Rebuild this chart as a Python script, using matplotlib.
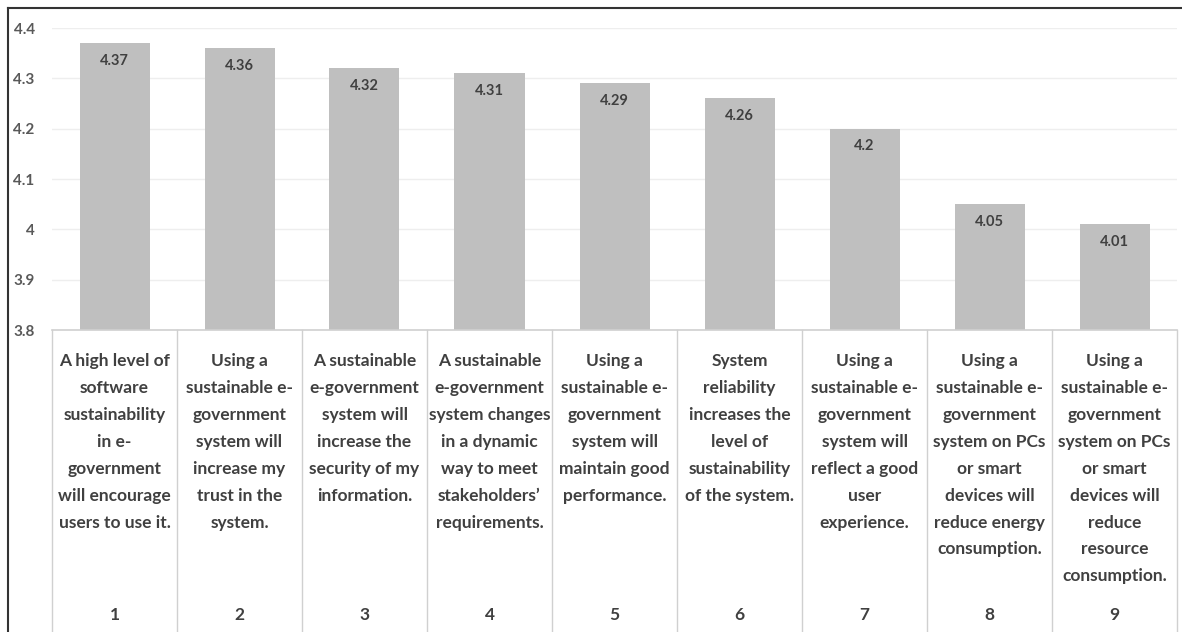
import matplotlib
matplotlib.use('Agg')
import matplotlib.pyplot as plt
from matplotlib.lines import Line2D

# data
item_numbers = ['1', '2', '3', '4', '5', '6', '7', '8', '9']
mean_scores = [4.37, 4.36, 4.32, 4.31, 4.29, 4.26, 4.20, 4.05, 4.01]
score_labels = ['4.37', '4.36', '4.32', '4.31', '4.29', '4.26', '4.2', '4.05', '4.01']
statements = [
	"A high level of\nsoftware\nsustainability\nin e-\ngovernment\nwill encourage\nusers to use it.",
	"Using a\nsustainable e-\ngovernment\nsystem will\nincrease my\ntrust in the\nsystem.",
	"A sustainable\ne-government\nsystem will\nincrease the\nsecurity of my\ninformation.",
	"A sustainable\ne-government\nsystem changes\nin a dynamic\nway to meet\nstakeholders\u2019\nrequirements.",
	"Using a\nsustainable e-\ngovernment\nsystem will\nmaintain good\nperformance.",
	"System\nreliability\nincreases the\nlevel of\nsustainability\nof the system.",
	"Using a\nsustainable e-\ngovernment\nsystem will\nreflect a good\nuser\nexperience.",
	"Using a\nsustainable e-\ngovernment\nsystem on PCs\nor smart\ndevices will\nreduce energy\nconsumption.",
	"Using a\nsustainable e-\ngovernment\nsystem on PCs\nor smart\ndevices will\nreduce\nresource\nconsumption.",
]
y_ticks = [3.8, 3.9, 4.0, 4.1, 4.2, 4.3, 4.4]
y_tick_labels = ['3.8', '3.9', '4', '4.1', '4.2', '4.3', '4.4']

plt.rcParams['font.family'] = ['Lato', 'DejaVu Sans']
text_color = '#404040'

W, H = 1182, 632
fig = plt.figure(figsize=(W / 100, H / 100), dpi=100)

left, right, top, mid = 52, 1177, 28, 330
ax = fig.add_axes([left / W, (H - mid) / H, (right - left) / W, (mid - top) / H])
xs = [i + 0.5 for i in range(len(mean_scores))]
ax.bar(xs, [v - 3.8 for v in mean_scores], bottom=3.8, width=0.56, color='#bfbfbf', zorder=2)
for x, v, lab in zip(xs, mean_scores, score_labels):
	ax.text(x, v - 0.021, lab, ha='center', va='top', fontsize=10.5, fontweight='bold', color=text_color, zorder=3)

ax.set_xlim(0, 9)
ax.set_ylim(3.8, 4.4)
ax.set_yticks(y_ticks)
ax.set_yticklabels(y_tick_labels, fontsize=11, fontweight='bold', color='#595959')
ax.set_xticks([])
ax.grid(axis='y', color='#eeeeee', linewidth=1, zorder=0)
ax.tick_params(left=False, pad=9)
for spine in ax.spines.values():
	spine.set_visible(False)

# category table below the bars
tab = fig.add_axes([left / W, 0, (right - left) / W, (H - mid) / H])
tab.set_xlim(0, 9)
tab.set_ylim(H - mid, 0)
tab.axis('off')
tab.plot([0, 9], [0, 0], color='#d0d0d0', linewidth=1.2, clip_on=False)
for i in range(10):
	tab.plot([i, i], [0, H - mid], color='#d0d0d0', linewidth=1, clip_on=False)
for x, stmt, num in zip(xs, statements, item_numbers):
	tab.text(x, 23, stmt, ha='center', va='top', fontsize=12.5, fontweight='bold', color=text_color, linespacing=1.84)
	tab.text(x, 285, num, ha='center', va='center', fontsize=12.5, fontweight='bold', color=text_color)

# outer frame, only the left and top edges show
fig.add_artist(Line2D([8 / W, 8 / W], [0, (H - 8) / H], color='#333333', linewidth=1.5))
fig.add_artist(Line2D([8 / W, 1], [(H - 8) / H, (H - 8) / H], color='#333333', linewidth=1.5))

plt.savefig('out.png', dpi=100)
